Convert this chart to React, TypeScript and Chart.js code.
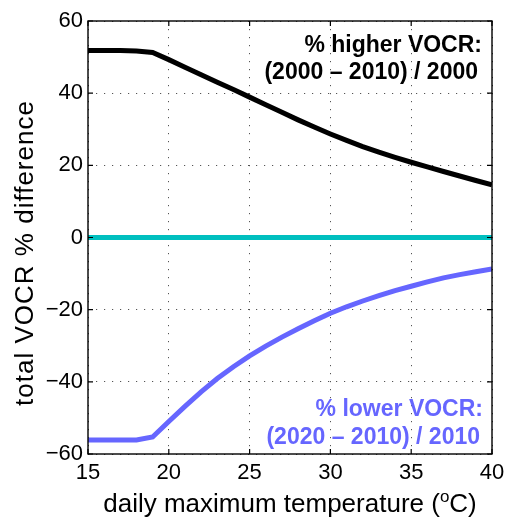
import React, { useEffect, useRef } from "react";
import { Chart, registerables } from "chart.js";

Chart.register(...registerables);

// ---- data ----
const temperatures = [15, 16, 17, 18, 19, 20, 21, 22, 23, 24, 25, 26, 27, 28, 29, 30, 31, 32, 33, 34, 35, 36, 37, 38, 39, 40];
const higherVOCR = [51.8, 51.8, 51.8, 51.7, 51.3, 49.3, 47.2, 45.1, 43.0, 41.0, 38.9, 36.8, 34.7, 32.6, 30.6, 28.7, 26.9, 25.2, 23.65, 22.2, 20.85, 19.55, 18.3, 17.05, 15.8, 14.6];
const lowerVOCR = [-56.1, -56.1, -56.1, -56.1, -55.3, -51.0, -46.8, -42.8, -39.1, -35.8, -32.8, -30.1, -27.6, -25.3, -23.1, -21.0, -19.2, -17.6, -16.1, -14.7, -13.5, -12.3, -11.2, -10.3, -9.5, -8.7];
const zeroTemps = [15, 40];
const zeroValues = [0, 0];
const xTicks = [15, 20, 25, 30, 35, 40];
const yTicks = [-60, -40, -20, 0, 20, 40, 60];

const blackText = ["% higher VOCR:", "(2000 \u2013 2010) / 2000"];
const blueText = ["% lower VOCR:", "(2020 \u2013 2010) / 2010"];
const yTitle = "total VOCR % difference";
const xTitleMain = "daily maximum temperature (";
const xTitleSup = "o";
const xTitleEnd = "C)";

const FONT = "'Liberation Sans', Arial, Helvetica, sans-serif";
const BLUE = "#6666ff";
const CYAN = "#00bfbf";

const toPoints = (xs: number[], ys: number[]) => xs.map((x, i) => ({ x, y: ys[i] }));

const framePlugin = {
  id: "frame",
  afterDraw(chart: any) {
    const { ctx, chartArea: a, scales } = chart;
    const xs = scales.x;
    const ys = scales.y;
    ctx.save();
    // box
    ctx.strokeStyle = "#000";
    ctx.lineWidth = 1.4;
    ctx.strokeRect(a.left, a.top, a.right - a.left, a.bottom - a.top);
    // inward ticks
    const tl = 5;
    ctx.lineWidth = 1.2;
    ctx.beginPath();
    xTicks.forEach((v) => {
      const p = xs.getPixelForValue(v);
      ctx.moveTo(p, a.bottom);
      ctx.lineTo(p, a.bottom - tl);
      ctx.moveTo(p, a.top);
      ctx.lineTo(p, a.top + tl);
    });
    yTicks.forEach((v) => {
      const p = ys.getPixelForValue(v);
      ctx.moveTo(a.left, p);
      ctx.lineTo(a.left + tl, p);
      ctx.moveTo(a.right, p);
      ctx.lineTo(a.right - tl, p);
    });
    ctx.stroke();

    // annotations
    ctx.font = `bold 23px ${FONT}`;
    ctx.textAlign = "right";
    ctx.textBaseline = "alphabetic";
    ctx.fillStyle = "#000";
    ctx.fillText(blackText[0], a.right - 10, a.top + 30.5);
    ctx.fillText(blackText[1], a.right - 14, a.top + 57.5);
    ctx.fillStyle = BLUE;
    ctx.fillText(blueText[0], a.right - 9, a.bottom - 38);
    ctx.fillText(blueText[1], a.right - 12, a.bottom - 10);

    // y title
    ctx.fillStyle = "#000";
    ctx.font = `26px ${FONT}`;
    ctx.save();
    try {
      (ctx as any).letterSpacing = "1px";
    } catch (e) {}
    ctx.translate(33, 253);
    ctx.rotate(-Math.PI / 2);
    ctx.textAlign = "center";
    ctx.fillText(yTitle, 0, 0);
    ctx.restore();

    // x title with superscript
    ctx.textAlign = "left";
    const mainFont = `26px ${FONT}`;
    const supFont = `17px ${FONT}`;
    ctx.font = mainFont;
    const w1 = ctx.measureText(xTitleMain).width;
    const w3 = ctx.measureText(xTitleEnd).width;
    ctx.font = supFont;
    const w2 = ctx.measureText(xTitleSup).width;
    const total = w1 + w2 + w3;
    const cx = (a.left + a.right) / 2;
    let x0 = cx - total / 2;
    const base = 511.5;
    ctx.font = mainFont;
    ctx.fillText(xTitleMain, x0, base);
    x0 += w1;
    ctx.font = supFont;
    ctx.fillText(xTitleSup, x0, base - 10);
    x0 += w2;
    ctx.font = mainFont;
    ctx.fillText(xTitleEnd, x0, base);
    ctx.restore();
  },
};

export default function App() {
  const ref = useRef<HTMLCanvasElement | null>(null);
  useEffect(() => {
    if (!ref.current) return;
    const chart = new Chart(ref.current, {
      type: "line",
      data: {
        datasets: [
          {
            data: toPoints(temperatures, higherVOCR),
            borderColor: "#000",
            borderWidth: 5,
            pointRadius: 0,
            tension: 0,
            fill: false,
          },
          {
            data: toPoints(zeroTemps, zeroValues),
            borderColor: CYAN,
            borderWidth: 5,
            pointRadius: 0,
            fill: false,
          },
          {
            data: toPoints(temperatures, lowerVOCR),
            borderColor: BLUE,
            borderWidth: 5,
            pointRadius: 0,
            tension: 0,
            fill: false,
          },
        ],
      },
      options: {
        responsive: false,
        animation: false,
        layout: { padding: { top: 21, right: 14, left: 0, bottom: 0 } },
        plugins: { legend: { display: false }, tooltip: { enabled: false } },
        scales: {
          x: {
            type: "linear",
            min: 15,
            max: 40,
            afterBuildTicks: (s: any) => {
              s.ticks = xTicks.map((v) => ({ value: v }));
            },
            afterFit: (s: any) => {
              s.height = 65;
              s.paddingLeft = 0;
              s.paddingRight = 0;
            },
            ticks: {
              color: "#000",
              font: { family: FONT, size: 22 },
              padding: 6,
              maxRotation: 0,
              autoSkip: false,
            },
            grid: { color: "#555", lineWidth: 1, drawTicks: false },
            border: { display: false, dash: [1.2, 6.8] },
          },
          y: {
            type: "linear",
            min: -60,
            max: 60,
            afterBuildTicks: (s: any) => {
              s.ticks = yTicks.map((v) => ({ value: v }));
            },
            afterFit: (s: any) => {
              s.width = 88;
              s.paddingTop = 0;
              s.paddingBottom = 0;
            },
            ticks: {
              color: "#000",
              font: { family: FONT, size: 22 },
              padding: 5,
              callback: (v: any) => String(v).replace("-", "\u2212"),
            },
            grid: { color: "#555", lineWidth: 1, drawTicks: false },
            border: { display: false, dash: [1.2, 6.8] },
          },
        },
      },
      plugins: [framePlugin],
    });
    return () => chart.destroy();
  }, []);
  return (
    <div style={{ position: "absolute", left: 0, top: 0, width: 506, height: 519, background: "#fff" }}>
      <canvas ref={ref} width={506} height={519} />
    </div>
  );
}
